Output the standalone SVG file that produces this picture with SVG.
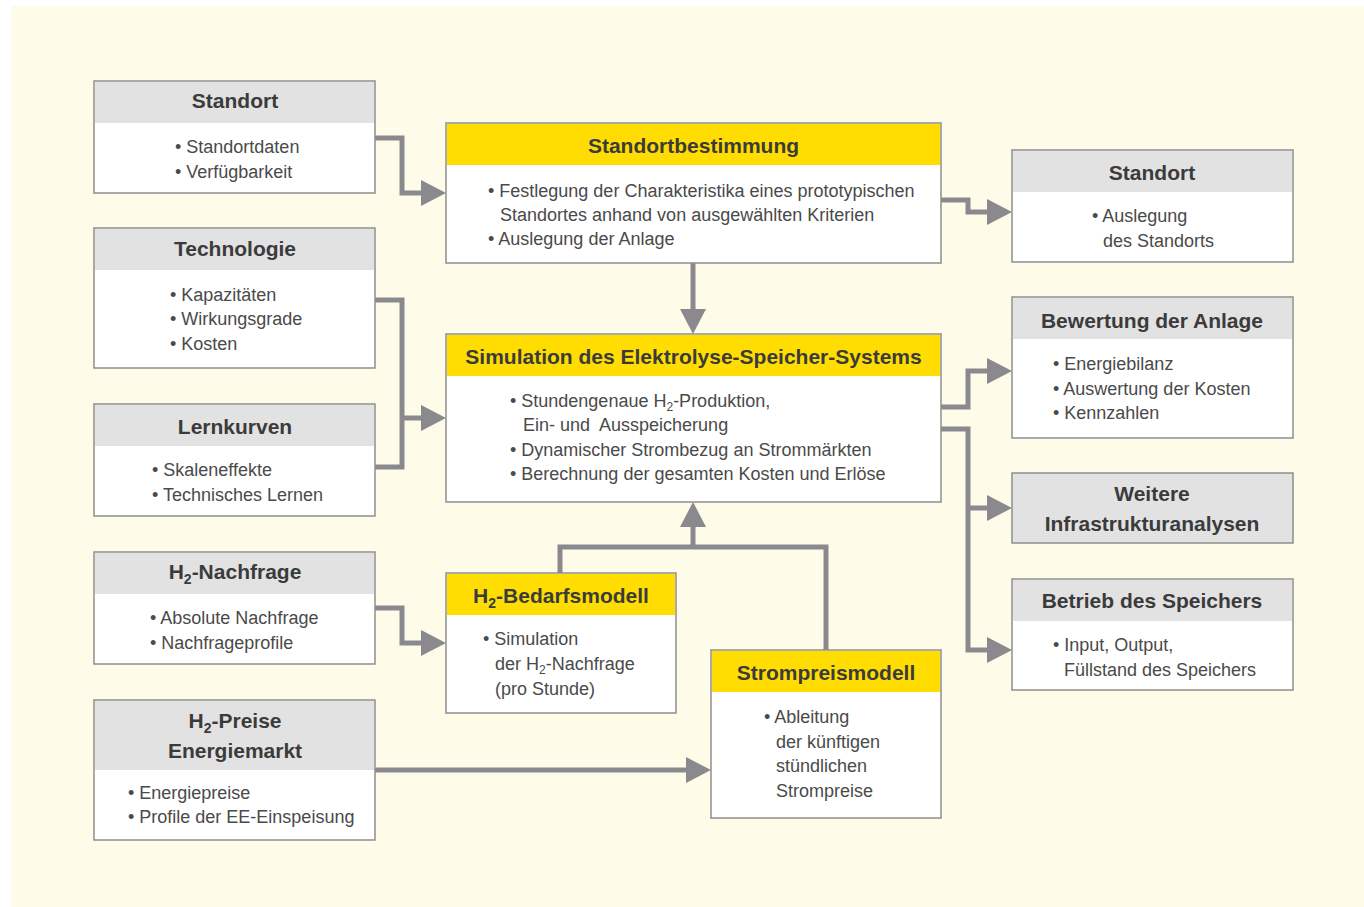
<svg xmlns="http://www.w3.org/2000/svg" width="1364" height="907" viewBox="0 0 1364 907">
<style>
.box{fill:#ffffff;stroke:#8e8e8e;stroke-width:1.5}
.hg{fill:#e2e2e2}
.hy{fill:#ffdd00}
.t{font-family:"Liberation Sans",Arial,sans-serif;font-weight:bold;font-size:21px;fill:#3b3b3b;text-anchor:middle}
.b{font-family:"Liberation Sans",Arial,sans-serif;font-size:18px;fill:#4a4a4a}
.s{font-size:12px}
.st{font-size:14px}
.c{fill:none;stroke:#8a898e;stroke-width:5}
</style>
<defs>
<marker id="ah" markerUnits="userSpaceOnUse" markerWidth="26" markerHeight="28" refX="0" refY="14" orient="auto">
<path d="M0,1 L25,14 L0,27 Z" fill="#8a898e"/>
</marker>
</defs>
<rect x="0" y="0" width="1364" height="907" fill="#ffffff"/>
<rect x="11" y="6" width="1353" height="901" fill="#fefbe9"/>

<g id="connectors">
<path class="c" d="M375,138 H402 V193 H421" marker-end="url(#ah)"/>
<path class="c" d="M375,300 H402 V467 H375"/>
<path class="c" d="M402,418 H421" marker-end="url(#ah)"/>
<path class="c" d="M693,263 V309" marker-end="url(#ah)"/>
<path class="c" d="M941,200 H968 V212 H987" marker-end="url(#ah)"/>
<path class="c" d="M941,407 H968 V371 H987" marker-end="url(#ah)"/>
<path class="c" d="M941,429 H968 V650 H987" marker-end="url(#ah)"/>
<path class="c" d="M968,508 H987" marker-end="url(#ah)"/>
<path class="c" d="M560,573 V547 H826 V650"/>
<path class="c" d="M693,547 V527" marker-end="url(#ah)"/>
<path class="c" d="M375,608 H402 V643 H421" marker-end="url(#ah)"/>
<path class="c" d="M375,770 H686" marker-end="url(#ah)"/>
</g>

<g id="standort-links">
<rect class="box" x="94" y="81" width="281" height="112"/>
<rect class="hg" x="95" y="82" width="279" height="41"/>
<text class="t" x="235" y="108">Standort</text>
<text class="b" x="175" y="153">• Standortdaten</text>
<text class="b" x="175" y="178">• Verfügbarkeit</text>
</g>

<g id="technologie">
<rect class="box" x="94" y="228" width="281" height="140"/>
<rect class="hg" x="95" y="229" width="279" height="41"/>
<text class="t" x="235" y="256">Technologie</text>
<text class="b" x="170" y="301">• Kapazitäten</text>
<text class="b" x="170" y="325">• Wirkungsgrade</text>
<text class="b" x="170" y="350">• Kosten</text>
</g>

<g id="lernkurven">
<rect class="box" x="94" y="404" width="281" height="112"/>
<rect class="hg" x="95" y="405" width="279" height="41"/>
<text class="t" x="235" y="434">Lernkurven</text>
<text class="b" x="152" y="476">• Skaleneffekte</text>
<text class="b" x="152" y="501">• Technisches Lernen</text>
</g>

<g id="h2-nachfrage">
<rect class="box" x="94" y="552" width="281" height="112"/>
<rect class="hg" x="95" y="553" width="279" height="41"/>
<text class="t" x="235" y="579">H<tspan class="st" dy="5">2</tspan><tspan dy="-5">-Nachfrage</tspan></text>
<text class="b" x="150" y="624">• Absolute Nachfrage</text>
<text class="b" x="150" y="649">• Nachfrageprofile</text>
</g>

<g id="h2-preise">
<rect class="box" x="94" y="700" width="281" height="140"/>
<rect class="hg" x="95" y="701" width="279" height="69"/>
<text class="t" x="235" y="728">H<tspan class="st" dy="5">2</tspan><tspan dy="-5">-Preise</tspan></text>
<text class="t" x="235" y="758">Energiemarkt</text>
<text class="b" x="128" y="799">• Energiepreise</text>
<text class="b" x="128" y="823">• Profile der EE-Einspeisung</text>
</g>

<g id="standortbestimmung">
<rect class="box" x="446" y="123" width="495" height="140"/>
<rect class="hy" x="447" y="124" width="493" height="41"/>
<text class="t" x="693.5" y="153">Standortbestimmung</text>
<text class="b" x="488" y="197">• Festlegung der Charakteristika eines prototypischen</text>
<text class="b" x="500" y="221">Standortes anhand von ausgewählten Kriterien</text>
<text class="b" x="488" y="245">• Auslegung der Anlage</text>
</g>

<g id="simulation">
<rect class="box" x="446" y="334" width="495" height="168"/>
<rect class="hy" x="447" y="335" width="493" height="41"/>
<text class="t" x="693.5" y="364">Simulation des Elektrolyse-Speicher-Systems</text>
<text class="b" x="510" y="407">• Stundengenaue H<tspan class="s" dy="4">2</tspan><tspan dy="-4">-Produktion,</tspan></text>
<text class="b" x="523" y="431" xml:space="preserve">Ein- und  Ausspeicherung</text>
<text class="b" x="510" y="456">• Dynamischer Strombezug an Strommärkten</text>
<text class="b" x="510" y="480">• Berechnung der gesamten Kosten und Erlöse</text>
</g>

<g id="h2-bedarfsmodell">
<rect class="box" x="446" y="573" width="230" height="140"/>
<rect class="hy" x="447" y="574" width="228" height="41"/>
<text class="t" x="561" y="603">H<tspan class="st" dy="5">2</tspan><tspan dy="-5">-Bedarfsmodell</tspan></text>
<text class="b" x="483" y="645">• Simulation</text>
<text class="b" x="495" y="670">der H<tspan class="s" dy="4">2</tspan><tspan dy="-4">-Nachfrage</tspan></text>
<text class="b" x="495" y="695">(pro Stunde)</text>
</g>

<g id="strompreismodell">
<rect class="box" x="711" y="650" width="230" height="168"/>
<rect class="hy" x="712" y="651" width="228" height="41"/>
<text class="t" x="826" y="680">Strompreismodell</text>
<text class="b" x="764" y="723">• Ableitung</text>
<text class="b" x="776" y="748">der künftigen</text>
<text class="b" x="776" y="772">stündlichen</text>
<text class="b" x="776" y="797">Strompreise</text>
</g>

<g id="standort-rechts">
<rect class="box" x="1012" y="150" width="281" height="112"/>
<rect class="hg" x="1013" y="151" width="279" height="41"/>
<text class="t" x="1152" y="180">Standort</text>
<text class="b" x="1092" y="222">• Auslegung</text>
<text class="b" x="1103" y="247">des Standorts</text>
</g>

<g id="bewertung">
<rect class="box" x="1012" y="297" width="281" height="141"/>
<rect class="hg" x="1013" y="298" width="279" height="41"/>
<text class="t" x="1152" y="328">Bewertung der Anlage</text>
<text class="b" x="1053" y="370">• Energiebilanz</text>
<text class="b" x="1053" y="395">• Auswertung der Kosten</text>
<text class="b" x="1053" y="419">• Kennzahlen</text>
</g>

<g id="weitere">
<rect class="box" x="1012" y="473" width="281" height="70" style="fill:#e2e2e2"/>
<text class="t" x="1152" y="501">Weitere</text>
<text class="t" x="1152" y="531">Infrastrukturanalysen</text>
</g>

<g id="betrieb">
<rect class="box" x="1012" y="579" width="281" height="111"/>
<rect class="hg" x="1013" y="580" width="279" height="41"/>
<text class="t" x="1152" y="608">Betrieb des Speichers</text>
<text class="b" x="1053" y="651">• Input, Output,</text>
<text class="b" x="1064" y="676">Füllstand des Speichers</text>
</g>
</svg>
